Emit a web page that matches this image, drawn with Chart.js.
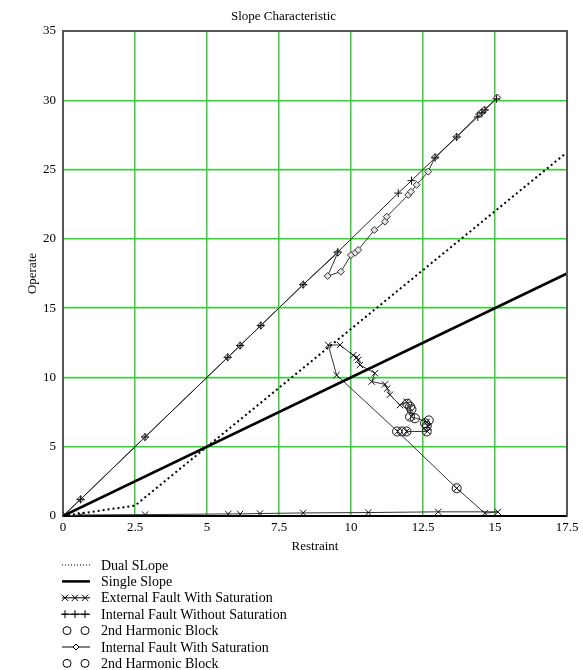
<!DOCTYPE html>
<html>
<head>
<meta charset="utf-8">
<script src="https://cdn.jsdelivr.net/npm/chart.js@4.4.1/dist/chart.umd.min.js"></script>
<style>
  html, body { margin: 0; padding: 0; background: #fff; }
  #wrap { width: 583px; height: 670px; }
</style>
</head>
<body>
<div id="wrap"><canvas id="c" width="583" height="670"></canvas></div>
<script>
// ---- data ----
const xTickLabels = ['0', '2.5', '5', '7.5', '10', '12.5', '15', '17.5'];
const yTickLabels = ['0', '5', '10', '15', '20', '25', '30', '35'];

// relay characteristic curves
const dualSlopeX = [0, 2.5, 17.5];
const dualSlopeY = [0, 0.75, 26.25];
const singleSlopeX = [0, 17.5];
const singleSlopeY = [0, 17.5];

// external fault trajectory (CT saturation)
const extFaultX = [0, 0.61, 2.85, 5.74, 6.15, 6.84, 8.34, 10.6, 13.03, 15.1, 14.65, 13.67, 11.62, 9.5, 9.21, 9.62,
                   10.08, 10.2, 10.25, 10.31, 10.83, 10.72, 11.18, 11.26, 11.35, 11.7, 11.93, 12.05, 12.1, 12.63, 12.68, 12.65, 11.93];
const extFaultY = [0, 0.08, 0.1, 0.15, 0.15, 0.18, 0.22, 0.25, 0.3, 0.3, 0.2, 2.0, 6.1, 10.17, 12.34, 12.34,
                   11.6, 11.45, 11.26, 10.9, 10.3, 9.7, 9.5, 9.2, 8.75, 8.0, 8.25, 7.77, 7.17, 6.8, 6.45, 6.1, 6.1];

// internal fault without saturation
const intNoSatX = [0, 0.61, 2.85, 5.72, 6.15, 6.87, 8.34, 9.54, 11.64, 12.1, 12.92, 13.67, 14.4, 14.55, 14.65, 15.05];
const intNoSatY = [0, 1.2, 5.7, 11.45, 12.3, 13.75, 16.7, 19.05, 23.3, 24.2, 25.85, 27.35, 28.8, 29.1, 29.3, 30.1];

// internal fault with saturation
const intSatX = [0, 0.61, 2.85, 5.72, 6.15, 6.87, 8.34, 9.54, 9.19, 9.65, 10.0, 10.15, 10.25, 10.81, 11.18, 11.24,
                 11.99, 12.08, 12.28, 12.68, 12.92, 13.67, 14.45, 14.55, 14.62, 15.08];
const intSatY = [0, 1.2, 5.7, 11.45, 12.3, 13.75, 16.7, 19.0, 17.32, 17.63, 18.83, 19.0, 19.2, 20.64, 21.24, 21.6,
                 23.17, 23.4, 23.9, 24.85, 25.9, 27.37, 29.0, 29.15, 29.3, 30.2];

// 2nd harmonic blocking points
const harmBlockAX = [13.67, 11.6, 11.77, 11.93, 12.63, 12.05, 12.22];
const harmBlockAY = [2.0, 6.1, 6.1, 6.1, 6.1, 7.17, 7.05];
const harmBlockBX = [12.63, 12.57, 12.7, 11.95, 12.05, 12.1];
const harmBlockBY = [6.5, 6.7, 6.9, 8.1, 7.9, 7.7];

const seriesNames = [
  'Dual SLope',
  'Single Slope',
  'External Fault With Saturation',
  'Internal Fault Without Saturation',
  '2nd Harmonic Block',
  'Internal Fault With Saturation',
  '2nd Harmonic Block'
];

const pts = (xs, ys) => xs.map((x, i) => ({ x: x, y: ys[i] }));
const SERIF = "'Liberation Serif', 'Times New Roman', serif";
const GRID_GREEN = '#22dd22';

const datasets = [
  { label: seriesNames[0], data: pts(dualSlopeX, dualSlopeY), showLine: true,
    borderColor: '#000', borderWidth: 2, borderDash: [2, 3], pointRadius: 0, legendKind: 'dotted' },
  { label: seriesNames[1], data: pts(singleSlopeX, singleSlopeY), showLine: true,
    borderColor: '#000', borderWidth: 2.6, pointRadius: 0, legendKind: 'thick' },
  { label: seriesNames[2], data: pts(extFaultX, extFaultY), showLine: true,
    borderColor: '#333', borderWidth: 1, pointStyle: 'crossRot', pointRadius: 4.5,
    pointBorderColor: '#111', pointBorderWidth: 1, legendKind: 'xline' },
  { label: seriesNames[3], data: pts(intNoSatX, intNoSatY), showLine: true,
    borderColor: '#222', borderWidth: 1, pointStyle: 'cross', pointRadius: 4,
    pointBorderColor: '#111', pointBorderWidth: 1, legendKind: 'plusline' },
  { label: seriesNames[4], data: pts(harmBlockAX, harmBlockAY), showLine: false,
    pointStyle: 'circle', pointRadius: 4.5, pointBackgroundColor: 'rgba(255,255,255,0)',
    pointBorderColor: '#111', pointBorderWidth: 1, legendKind: 'circles' },
  { label: seriesNames[5], data: pts(intSatX, intSatY), showLine: true,
    borderColor: '#333', borderWidth: 1, pointStyle: 'rectRot', pointRadius: 3.5,
    pointBackgroundColor: '#e4e4e4', pointBorderColor: '#333', pointBorderWidth: 1, legendKind: 'diamondline' },
  { label: seriesNames[6], data: pts(harmBlockBX, harmBlockBY), showLine: false,
    pointStyle: 'circle', pointRadius: 4.5, pointBackgroundColor: 'rgba(255,255,255,0)',
    pointBorderColor: '#111', pointBorderWidth: 1, legendKind: 'circles' }
];

// frame around the plot area (top and right edges)
const plotFrame = {
  id: 'plotFrame',
  afterDatasetsDraw(chart) {
    const { ctx, chartArea: a } = chart;
    ctx.save();
    ctx.strokeStyle = '#555';
    ctx.lineWidth = 2;
    ctx.beginPath();
    ctx.moveTo(a.left, a.top);
    ctx.lineTo(a.right, a.top);
    ctx.lineTo(a.right, a.bottom);
    ctx.stroke();
    ctx.restore();
  }
};

function drawMarker(ctx, kind, x, y) {
  ctx.beginPath();
  if (kind === 'x') {
    const r = 3.2;
    ctx.moveTo(x - r, y - r); ctx.lineTo(x + r, y + r);
    ctx.moveTo(x - r, y + r); ctx.lineTo(x + r, y - r);
    ctx.stroke();
  } else if (kind === '+') {
    const r = 4;
    ctx.moveTo(x - r, y); ctx.lineTo(x + r, y);
    ctx.moveTo(x, y - r); ctx.lineTo(x, y + r);
    ctx.stroke();
  } else if (kind === 'o') {
    ctx.arc(x, y, 4, 0, Math.PI * 2);
    ctx.stroke();
  } else if (kind === 'd') {
    const r = 3;
    ctx.moveTo(x, y - r); ctx.lineTo(x + r, y); ctx.lineTo(x, y + r); ctx.lineTo(x - r, y); ctx.closePath();
    ctx.fillStyle = '#fff'; ctx.fill();
    ctx.stroke();
  }
}

// stacked legend below the x axis
const stackedLegend = {
  id: 'stackedLegend',
  afterDraw(chart) {
    const { ctx, chartArea: a } = chart;
    const x0 = a.left - 1, x1 = a.left + 27;
    const rowH = 16.4;
    let y = a.bottom + 49;
    ctx.save();
    ctx.font = '14px ' + SERIF;
    ctx.textBaseline = 'middle';
    ctx.textAlign = 'left';
    chart.data.datasets.forEach(ds => {
      ctx.strokeStyle = '#000';
      ctx.setLineDash([]);
      const k = ds.legendKind;
      if (k === 'dotted') {
        ctx.lineWidth = 1; ctx.setLineDash([1, 2]);
        ctx.beginPath(); ctx.moveTo(x0, y); ctx.lineTo(x1, y); ctx.stroke();
        ctx.setLineDash([]);
      } else if (k === 'thick') {
        ctx.lineWidth = 2.5;
        ctx.beginPath(); ctx.moveTo(x0, y); ctx.lineTo(x1, y); ctx.stroke();
      } else if (k === 'xline' || k === 'plusline') {
        ctx.lineWidth = 1;
        ctx.beginPath(); ctx.moveTo(x0, y); ctx.lineTo(x1, y); ctx.stroke();
        [x0 + 3, x0 + 13, x0 + 23].forEach(px => drawMarker(ctx, k === 'xline' ? 'x' : '+', px, y));
      } else if (k === 'circles') {
        ctx.lineWidth = 1;
        [x0 + 5, x0 + 23].forEach(px => drawMarker(ctx, 'o', px, y));
      } else if (k === 'diamondline') {
        ctx.lineWidth = 1;
        ctx.beginPath(); ctx.moveTo(x0, y); ctx.lineTo(x1, y); ctx.stroke();
        drawMarker(ctx, 'd', x0 + 14, y);
      }
      ctx.fillStyle = '#000';
      ctx.fillText(ds.label, a.left + 38, y + 1);
      y += rowH;
    });
    ctx.restore();
  }
};

new Chart(document.getElementById('c'), {
  type: 'scatter',
  data: { datasets: datasets },
  options: {
    responsive: false,
    animation: false,
    devicePixelRatio: 1,
    layout: { padding: { left: 0, right: 16, top: 0, bottom: 114 } },
    elements: { line: { tension: 0, fill: false } },
    plugins: {
      legend: { display: false },
      tooltip: { enabled: false },
      title: {
        display: true, text: 'Slope Characteristic', color: '#000',
        font: { family: SERIF, size: 13, weight: 'normal' },
        padding: { top: 9, bottom: 6.4 }
      }
    },
    scales: {
      x: {
        type: 'linear', min: 0, max: 17.5,
        afterFit(scale) { scale.height = 40; },
        ticks: {
          stepSize: 2.5, padding: 4, color: '#000', maxRotation: 0, autoSkip: false,
          font: { family: SERIF, size: 13 },
          callback: (v, i) => xTickLabels[i]
        },
        grid: { color: GRID_GREEN, lineWidth: 1.5, drawTicks: false },
        border: { display: true, color: '#000', width: 2 },
        title: {
          display: true, text: 'Restraint', color: '#000',
          font: { family: SERIF, size: 13 }, padding: { top: 0, bottom: 1.2 }
        }
      },
      y: {
        type: 'linear', min: 0, max: 35,
        afterFit(scale) { scale.width = 63; },
        ticks: {
          stepSize: 5, padding: 7, color: '#000', autoSkip: false,
          font: { family: SERIF, size: 13 },
          callback: (v, i) => yTickLabels[i]
        },
        grid: { color: GRID_GREEN, lineWidth: 1.5, drawTicks: false },
        border: { display: true, color: '#555', width: 2 },
        title: {
          display: true, text: 'Operate', color: '#000',
          font: { family: SERIF, size: 13 }, padding: { top: 25, bottom: 0 }
        }
      }
    }
  },
  plugins: [plotFrame, stackedLegend]
});
</script>
</body>
</html>
